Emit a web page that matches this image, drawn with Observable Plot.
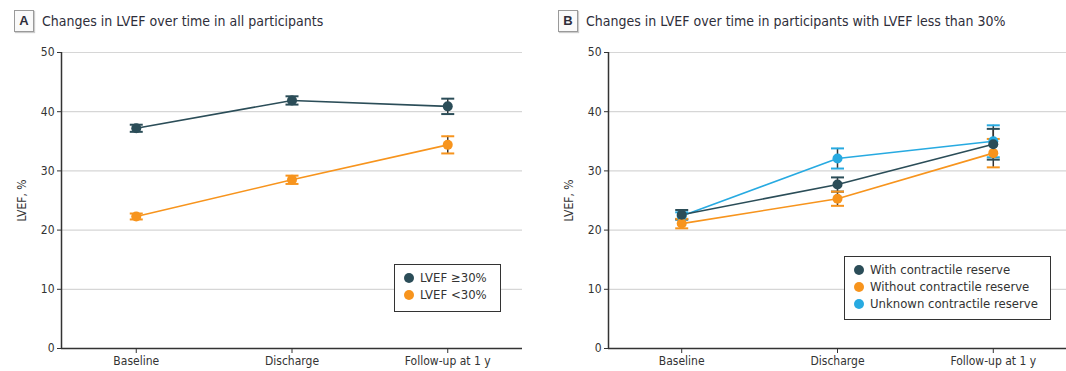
<!DOCTYPE html>
<html>
<head>
<meta charset="utf-8">
<script src="https://cdn.jsdelivr.net/npm/d3@7"></script>
<script src="https://cdn.jsdelivr.net/npm/@observablehq/plot@0.6"></script>
<style>
  html, body { margin: 0; padding: 0; background: #fff; }
  body { font-family: "Liberation Sans Narrow", "DejaVu Sans Condensed", "Open Sans", sans-serif; color: #333; }
  #root { position: relative; width: 1066px; height: 371px; overflow: hidden; }
  .panel { position: absolute; top: 0; height: 371px; }
  .title { position: absolute; top: 10px; height: 22px; display: flex; align-items: center; font-size: 14px; color: #2e2e3a; white-space: nowrap; }
  .badge { display: inline-block; width: 18px; height: 20px; line-height: 20px; text-align: center; border: 1px solid #9a9a9a; box-shadow: 1px 1px 1px #ccc; font-weight: bold; font-size: 13px; margin-right: 8px; font-family: "Liberation Sans", sans-serif; background: #fafafa; }
  .chart { position: absolute; top: 40px; left: 0; }
  .legend { position: absolute; border: 1.5px solid #333; background: #fff; font-size: 13px; padding: 4px 8px 4px 9px; box-sizing: border-box; }
  .legend .row { display: flex; align-items: center; height: 17px; white-space: nowrap; }
  .legend .sw { width: 10px; height: 10px; border-radius: 50%; margin-right: 6px; flex: none; }
  svg text { font-family: "Liberation Sans Narrow", "DejaVu Sans Condensed", "Open Sans", sans-serif; }
</style>
</head>
<body>
<div id="root">
  <div class="panel" id="pA" style="left:0;width:540px;">
    <div class="title" style="left:14px;"><span class="badge">A</span><span id="titleA"></span></div>
  </div>
  <div class="panel" id="pB" style="left:540px;width:526px;">
    <div class="title" style="left:18px;"><span class="badge">B</span><span id="titleB"></span></div>
  </div>
</div>
<script>
// ---------- data ----------
const categories = ["Baseline", "Discharge", "Follow-up at 1 y"];
const yTicks = [0, 10, 20, 30, 40, 50];
const yLabel = "LVEF, %";

const titleA = "Changes in LVEF over time in all participants";
const seriesA = ["LVEF ≥30%", "LVEF <30%"];
const colorsA = ["#2b4d58", "#f7941d"];
const aHighMean = [37.2, 41.9, 40.9];
const aHighErr  = [0.6, 0.7, 1.3];
const aLowMean  = [22.3, 28.5, 34.4];
const aLowErr   = [0.5, 0.7, 1.45];

const titleB = "Changes in LVEF over time in participants with LVEF less than 30%";
const seriesB = ["With contractile reserve", "Without contractile reserve", "Unknown contractile reserve"];
const colorsB = ["#2b4d58", "#f7941d", "#27aae1"];
const bWithMean     = [22.6, 27.7, 34.5];
const bWithErr      = [0.8, 1.2, 2.6];
const bWithoutMean  = [21.1, 25.3, 33.0];
const bWithoutErr   = [0.8, 1.2, 2.4];
const bUnknownMean  = [22.4, 32.1, 35.0];
const bUnknownErr   = [0.6, 1.7, 2.7];

// ---------- helpers ----------
const hline = {
  draw(ctx, size) {
    const w = Math.sqrt(size / Math.PI);
    ctx.moveTo(-w, 0);
    ctx.lineTo(w, 0);
  }
};

function buildRows(names, means, errs, drawOrder) {
  const rows = [];
  for (const s of drawOrder) {
    means[s].forEach((m, i) => {
      rows.push({ s: names[s], i, y: m, lo: m - errs[s][i], hi: m + errs[s][i] });
    });
  }
  return rows;
}

function panel({ names, colors, rows, width, marginLeft, marginRight, xPad }) {
  const xDomain = [-xPad, categories.length - 1 + xPad];
  return Plot.plot({
    width,
    height: 331,
    marginTop: 12,
    marginBottom: 23,
    marginLeft,
    marginRight,
    style: { fontSize: "12px", color: "#333", background: "transparent", overflow: "visible" },
    x: { type: "linear", domain: xDomain },
    y: { domain: [0, 50] },
    color: { domain: names, range: colors },
    marks: [
      Plot.gridY(yTicks, { stroke: "#d6d6d6", strokeOpacity: 1, strokeWidth: 1.2 }),
      Plot.ruleY([0], { stroke: "#333", strokeWidth: 1.5 }),
      Plot.ruleX([xDomain[0]], { stroke: "#333", strokeWidth: 1.5 }),
      Plot.axisY({ ticks: yTicks, tickSize: 4, tickPadding: 3, tickFormat: d => d, label: yLabel, labelArrow: "none", labelAnchor: "center", labelOffset: 44, stroke: "#333", fill: "#333" }),
      Plot.axisX({ ticks: categories.map((_, i) => i), tickFormat: i => categories[i], tickSize: 5, tickPadding: 3, label: null, stroke: "#333", fill: "#333" }),
      Plot.line(rows, { x: "i", y: "y", z: "s", stroke: "s", strokeWidth: 1.6 }),
      Plot.ruleX(rows, { x: "i", y1: "lo", y2: "hi", stroke: "#333", strokeWidth: 1.5 }),
      Plot.dot(rows, { x: "i", y: "lo", symbol: hline, r: 6.5, stroke: "s", strokeWidth: 2 }),
      Plot.dot(rows, { x: "i", y: "hi", symbol: hline, r: 6.5, stroke: "s", strokeWidth: 2 }),
      Plot.dot(rows, { x: "i", y: "y", r: 5, fill: "s" })
    ]
  });
}

function legend(names, colors, style) {
  const div = document.createElement("div");
  div.className = "legend";
  Object.assign(div.style, style);
  names.forEach((n, k) => {
    const row = document.createElement("div");
    row.className = "row";
    const sw = document.createElement("span");
    sw.className = "sw";
    sw.style.background = colors[k];
    const tx = document.createElement("span");
    tx.textContent = n;
    row.appendChild(sw);
    row.appendChild(tx);
    div.appendChild(row);
  });
  return div;
}

// ---------- panel A ----------
document.getElementById("titleA").textContent = titleA;
const rowsA = buildRows(seriesA, [aHighMean, aLowMean], [aHighErr, aLowErr], [1, 0]);
const chartA = panel({ names: seriesA, colors: colorsA, rows: rowsA, width: 540, marginLeft: 61, marginRight: 18, xPad: 0.48 });
chartA.classList.add("chart");
document.getElementById("pA").appendChild(chartA);
document.getElementById("pA").appendChild(legend(seriesA, colorsA, { left: "394px", top: "264px", width: "107px", height: "48px" }));

// ---------- panel B ----------
document.getElementById("titleB").textContent = titleB;
const rowsB = buildRows(seriesB, [bWithMean, bWithoutMean, bUnknownMean], [bWithErr, bWithoutErr, bUnknownErr], [2, 1, 0]);
const chartB = panel({ names: seriesB, colors: colorsB, rows: rowsB, width: 526, marginLeft: 68, marginRight: 0, xPad: 0.47 });
chartB.classList.add("chart");
document.getElementById("pB").appendChild(chartB);
document.getElementById("pB").appendChild(legend(seriesB, colorsB, { left: "304px", top: "256px", width: "207px", height: "64px" }));
</script>
</body>
</html>
